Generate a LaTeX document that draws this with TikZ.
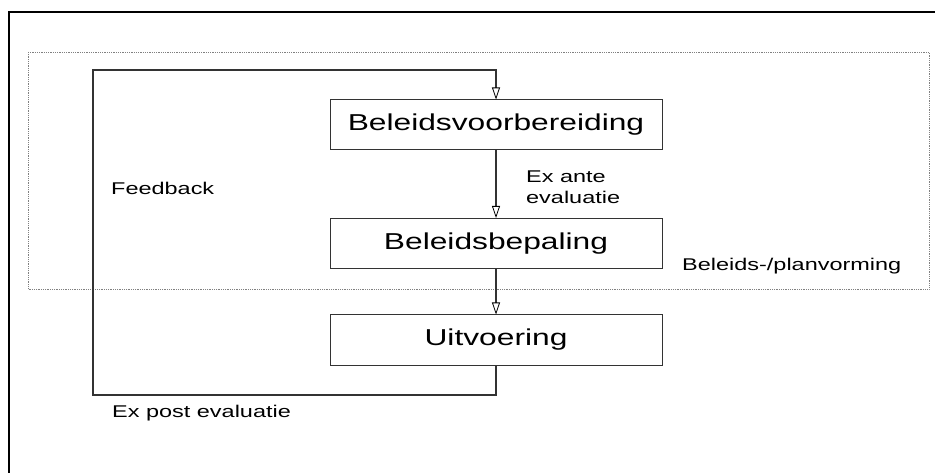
\documentclass[tikz,border=0pt]{standalone}
\usepackage{fontspec}
\setmainfont{Liberation Sans}[FakeStretch=1.38]
\usetikzlibrary{arrows.meta,positioning}
\begin{document}
\begin{tikzpicture}[x=1pt, y=-1pt,
    stap/.style={draw=black!80, line width=1pt, minimum width=332pt, minimum height=50pt,
                 inner sep=0pt, font=\fontsize{23}{27}\selectfont},
    label/.style={inner sep=0pt, anchor=west, align=left, font=\fontsize{17}{21}\selectfont},
    pijl/.style={draw=black!80, line width=2pt, -{Triangle[open, length=12pt, width=8pt, line width=0.8pt, color=black]}},
    terug/.style={draw=black!80, line width=2pt}]
        \useasboundingbox (0,0) rectangle (935,473);
        % frame and planning area
        \draw [line width=2pt] (9,473)--(9,12)--(935,12);
        \draw [gray, densely dotted, line width=0.8pt] (28,52) rectangle (929,289);
        \node [label] (plan) at (682,266) {Beleids-/planvorming};
        % steps
        \node [stap] (voorb) at (496,125) {Beleidsvoorbereiding};
        \node [stap] (bepal) at (496,243.5) {Beleidsbepaling};
        \node [stap] (uitv) at (496,340) {Uitvoering};
        \draw [pijl] (voorb) -- (bepal);
        \draw [pijl] (bepal) -- (uitv);
        \node [label] (exante) at (526,187) {Ex ante\\evaluatie};
        % feedback loop
        \coordinate (fbl) at (93,395);
        \coordinate (fbt) at (93,70);
        \draw [pijl] (uitv.south) |- (fbl) -- (fbt) -| (voorb.north);
        \node [label] (fb) at (111,188) {Feedback};
        \node [label] (expost) at (112,413) {Ex post evaluatie};
    \end{tikzpicture}
\end{document}
